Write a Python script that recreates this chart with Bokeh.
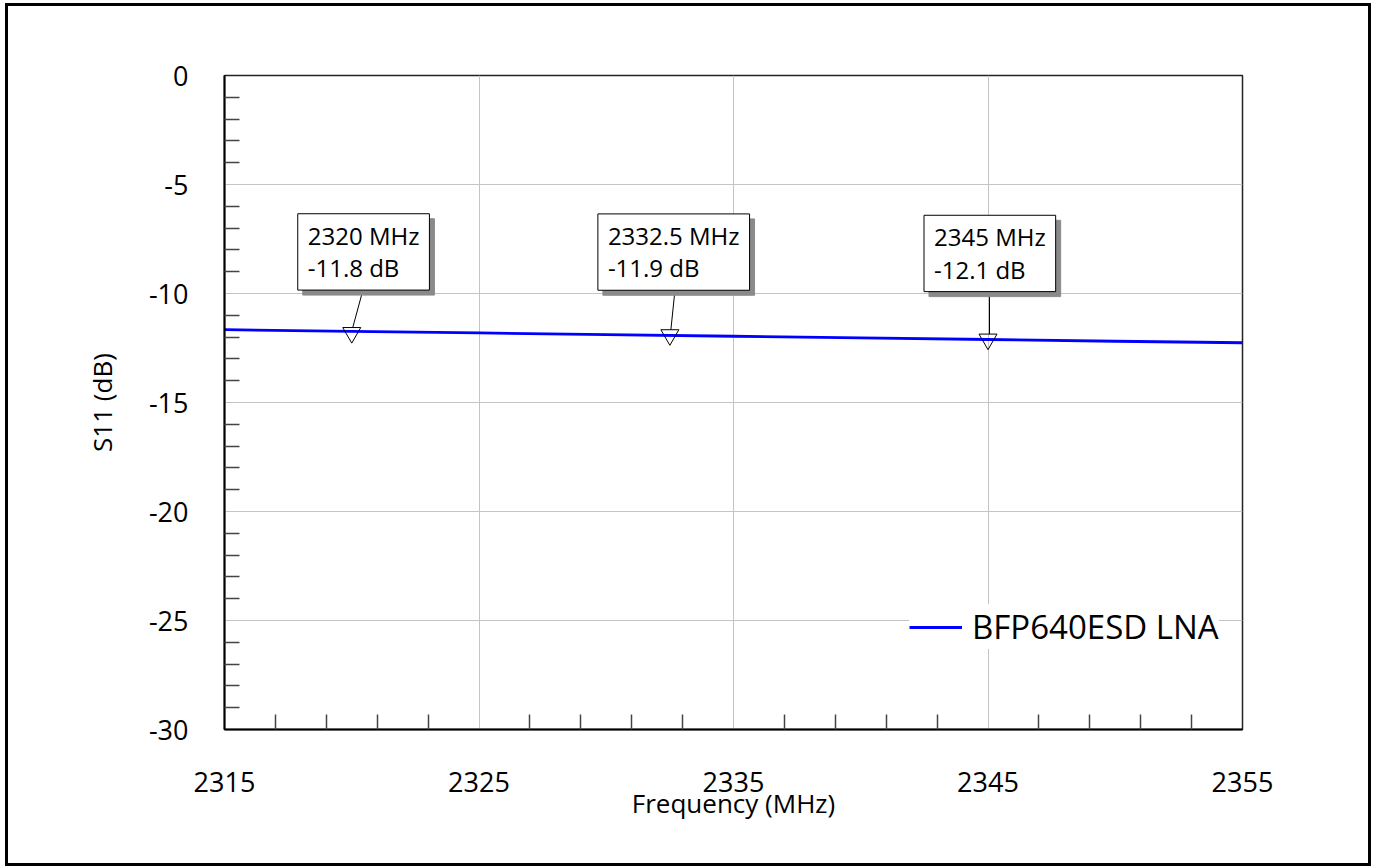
from bokeh.plotting import figure
from bokeh.models import Range1d, FixedTicker, Label, Legend, LegendItem
from bokeh.embed import file_html
from bokeh.resources import INLINE

# ---------------- data ----------------
freq_mhz = [2315, 2320, 2325, 2330, 2335, 2340, 2345, 2350, 2355]
s11_db = [-11.66, -11.74, -11.81, -11.89, -11.96, -12.04, -12.11, -12.19, -12.26]

marker_freq = [2320, 2332.5, 2345]
marker_s11 = [-11.8, -11.9, -12.1]

x_ticks = [2315, 2325, 2335, 2345, 2355]
y_ticks = [0, -5, -10, -15, -20, -25, -30]

series_name = "BFP640ESD LNA"
x_title = "Frequency (MHz)"
y_title = "S11 (dB)"

# ---------------- layout / style ----------------
FONT = "Open Sans"
W, H = 1360, 857
BL, BR, BT, BB = 216, 132, 69, 140
FW, FH = 1018, 654
x_lo, x_hi = x_ticks[0], x_ticks[-1]
y_lo, y_hi = min(y_ticks), max(y_ticks)
px_per_x = FW / (x_hi - x_lo)
px_per_y = FH / (y_hi - y_lo)

# annotation placement (screen px relative to each marker)
box_left_dx = [-54, -72, -64]
box_top_dy = [119, 121, 124]
leader_dx_top = [11, 5, 1.5]
leader_dx_bot = [1, 1, 1.5]
PAD = (10, 10, 5, 6)   # left, right, top, bottom
BOX_H = 77

p = figure(width=W, height=H, output_backend="svg", toolbar_location=None,
           x_range=Range1d(x_lo, x_hi), y_range=Range1d(y_lo, y_hi),
           min_border_left=BL, min_border_right=BR, min_border_top=BT, min_border_bottom=BB,
           background_fill_color="white", border_fill_color="white",
           styles={"position": "absolute", "left": "5px", "top": "3px",
                   "border": "3px solid black", "box-sizing": "content-box"})

p.outline_line_color = "#222222"
p.outline_line_width = 1.5

# axes
minor_x = [t + k for t in x_ticks[:-1] for k in (2, 4, 6, 8)]
minor_y = [t - k for t in y_ticks[:-1] for k in (1, 2, 3, 4)]
p.xaxis.ticker = FixedTicker(ticks=x_ticks, minor_ticks=minor_x)
p.yaxis.ticker = FixedTicker(ticks=y_ticks, minor_ticks=minor_y)
p.xgrid.ticker = FixedTicker(ticks=x_ticks)
p.ygrid.ticker = FixedTicker(ticks=y_ticks)
p.yaxis.major_label_overrides = {t: str(t) for t in y_ticks}
p.xaxis.major_label_overrides = {t: str(t) for t in x_ticks}

for ax in (p.xaxis[0], p.yaxis[0]):
    ax.axis_line_color = "black"
    ax.axis_line_width = 2
    ax.major_tick_in = 0
    ax.major_tick_out = 0
    ax.minor_tick_in = 15
    ax.minor_tick_out = 0
    ax.minor_tick_line_color = "#444444"
    ax.minor_tick_line_width = 1.5
    ax.major_label_text_font = FONT
    ax.major_label_text_font_size = "27px"
    ax.major_label_text_color = "black"
    ax.axis_label_text_font = FONT
    ax.axis_label_text_font_size = "26px"
    ax.axis_label_text_font_style = "normal"
    ax.axis_label_text_color = "black"

p.xaxis.axis_label = x_title
p.yaxis.axis_label = y_title
p.xaxis.major_label_standoff = 42
p.yaxis.major_label_standoff = 36
p.xaxis.axis_label_standoff = -10
p.yaxis.axis_label_standoff = 26

p.grid.grid_line_color = "#c4c4c4"
p.grid.grid_line_width = 1

# data line
line = p.line(freq_mhz, s11_db, line_color="#0000ff", line_width=2.8)

# markers
p.scatter(marker_freq, marker_s11, marker="inverted_triangle", size=18,
          fill_color=None, line_color="black", line_width=1)

# leader lines
lx0 = [f + d / px_per_x for f, d in zip(marker_freq, leader_dx_top)]
ly0 = [v + (t - BOX_H) / px_per_y for v, t in zip(marker_s11, box_top_dy)]
lx1 = [f + d / px_per_x for f, d in zip(marker_freq, leader_dx_bot)]
ly1 = [v + 5.2 / px_per_y for v in marker_s11]
p.segment(lx0, ly0, lx1, ly1, line_color="black", line_width=1)

# annotation boxes (gray drop shadow + white box)
for f, v, dx, dy in zip(marker_freq, marker_s11, box_left_dx, box_top_dy):
    txt = f"{f:g} MHz\n{v:.1f} dB"
    shadow = Label(x=f, y=v, x_offset=dx + 5, y_offset=dy - 5, text=txt,
                   text_align="left", text_baseline="top", text_font=FONT,
                   text_font_size="24px", text_color="#8a8a8a", padding=PAD,
                   text_line_height=0.98,
                   background_fill_color="#8a8a8a", background_fill_alpha=1,
                   border_line_color="#8a8a8a", border_line_width=1)
    box = Label(x=f, y=v, x_offset=dx, y_offset=dy, text=txt,
                text_align="left", text_baseline="top", text_font=FONT,
                text_font_size="24px", text_color="black", padding=PAD,
                text_line_height=0.98,
                background_fill_color="white", background_fill_alpha=1,
                border_line_color="black", border_line_width=1)
    p.add_layout(shadow)
    p.add_layout(box)

legend = Legend(items=[LegendItem(label=series_name, renderers=[line])],
                location=(685, 80), padding=13, margin=0, spacing=0,
                glyph_width=53, label_standoff=10,
                label_text_font=FONT, label_text_font_size="33px",
                label_text_color="black",
                background_fill_color="white", background_fill_alpha=1,
                border_line_color=None)
p.add_layout(legend)

open("out.html", "w").write(file_html(p, INLINE))
